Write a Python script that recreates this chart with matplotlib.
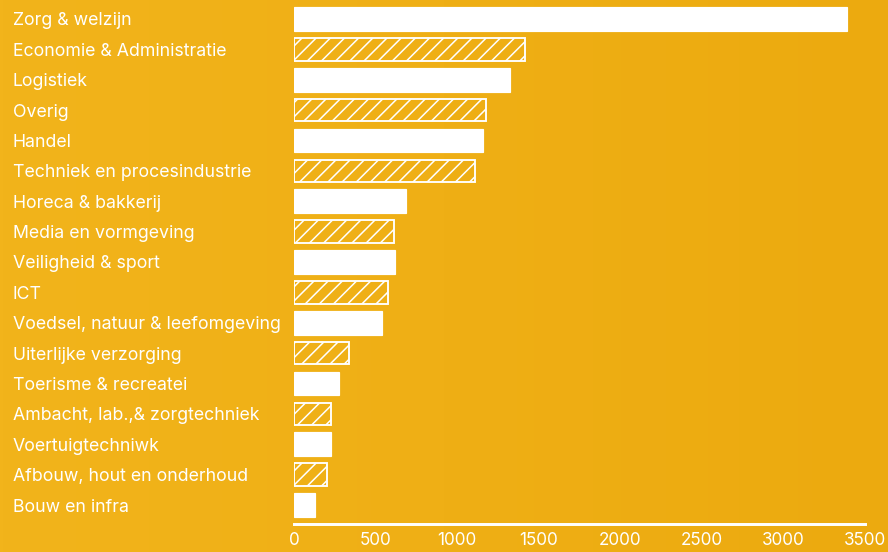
import numpy as np
import matplotlib.pyplot as plt
from matplotlib.colors import LinearSegmentedColormap

# sectoren en aantallen
sectoren = [
    'Zorg & welzijn',
    'Economie & Administratie',
    'Logistiek',
    'Overig',
    'Handel',
    'Techniek en procesindustrie',
    'Horeca & bakkerij',
    'Media en vormgeving',
    'Veiligheid & sport',
    'ICT',
    'Voedsel, natuur & leefomgeving',
    'Uiterlijke verzorging',
    'Toerisme & recreatei',
    'Ambacht, lab.,& zorgtechniek',
    'Voertuigtechniwk',
    'Afbouw, hout en onderhoud',
    'Bouw en infra',
]
aantallen = [3390, 1415, 1325, 1175, 1158, 1113, 685, 613, 620, 578,
             538, 338, 274, 224, 227, 202, 131]
x_ticks = [0, 500, 1000, 1500, 2000, 2500, 3000, 3500]

plt.rcParams['font.family'] = ['Inter', 'DejaVu Sans']
plt.rcParams['hatch.color'] = 'white'
plt.rcParams['hatch.linewidth'] = 1.3

dpi = 85
fig = plt.figure(figsize=(888 / dpi, 552 / dpi), dpi=dpi)

# achtergrond met een lichte kleurverloop van links naar rechts
bg = fig.add_axes([0, 0, 1, 1], zorder=-1)
cmap = LinearSegmentedColormap.from_list('achtergrond', ['#f2b41b', '#ecaa0f'])
bg.imshow(np.linspace(0, 1, 256).reshape(1, -1), cmap=cmap, aspect='auto',
          extent=[0, 1, 0, 1])
bg.axis('off')

W, H = 888, 552
ax = fig.add_axes([294 / W, (H - 524) / H, (864.5 - 294) / W, 524 / H])
ax.patch.set_alpha(0)

y = np.arange(len(sectoren))
for i, (yy, v) in enumerate(zip(y, aantallen)):
    if i % 2 == 0:
        ax.barh(yy, v, height=0.78, color='white', edgecolor='white', linewidth=1)
    else:
        ax.barh(yy, v, height=0.74, facecolor='none', edgecolor='white',
                linewidth=1.6, hatch='//')

ax.set_xlim(0, 3500)
ax.set_ylim(len(sectoren) - 1 + 0.625, -0.625)

for s in ['top', 'right', 'left']:
    ax.spines[s].set_visible(False)
ax.spines['bottom'].set_color('white')
ax.spines['bottom'].set_linewidth(2.5)

ax.set_xticks(x_ticks)
ax.set_xticklabels([str(t) for t in x_ticks])
ax.set_yticks(y)
ax.set_yticklabels(sectoren)
ax.tick_params(axis='x', length=0, pad=7, labelsize=14.5, labelcolor='white')
ax.tick_params(axis='y', length=0, pad=(294 - 13) * 72 / dpi, labelsize=15,
               labelcolor='white')
for lbl in ax.get_yticklabels():
    lbl.set_horizontalalignment('left')

fig.savefig('out.png', dpi=dpi)
